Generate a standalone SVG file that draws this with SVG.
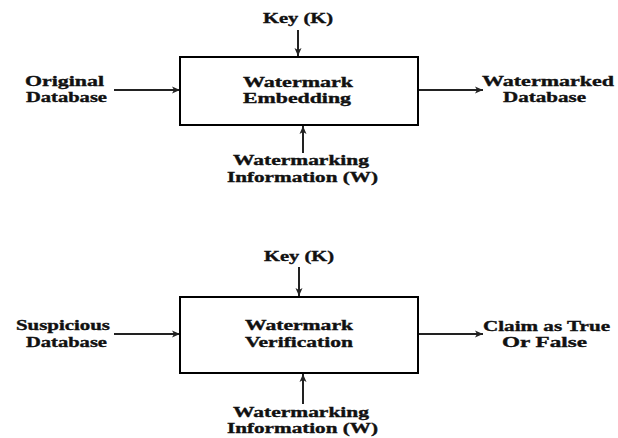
<svg xmlns="http://www.w3.org/2000/svg" width="618" height="438" viewBox="0 0 618 438">
<style>
.box{fill:#fff;stroke:#000;stroke-width:2}
.t{font-family:"Liberation Serif","Times New Roman",serif;font-weight:bold;font-size:14px;fill:#111;stroke:#111;stroke-width:0.35;text-anchor:middle}
.c{stroke:#222;stroke-width:2;fill:none;marker-end:url(#ah)}
</style>
<defs>
<marker id="ah" markerUnits="userSpaceOnUse" markerWidth="10" markerHeight="10" viewBox="0 0 10 10" refX="9" refY="5" orient="auto">
<path d="M1,1.5 L9,5 L1,8.5 L3,5 Z" fill="#222"/>
</marker>
</defs>
<rect width="618" height="438" fill="#fff"/>
<g id="connectors">
<line class="c" x1="298" y1="30" x2="298" y2="56"/>
<line class="c" x1="114" y1="90" x2="180" y2="90"/>
<line class="c" x1="419" y1="90" x2="483" y2="90"/>
<line class="c" x1="303" y1="153" x2="303" y2="126"/>
<line class="c" x1="299" y1="267" x2="299" y2="296"/>
<line class="c" x1="114" y1="334" x2="180" y2="334"/>
<line class="c" x1="419" y1="334" x2="483" y2="334"/>
<line class="c" x1="303" y1="404" x2="303" y2="374"/>
</g>
<g id="embedding">
<rect class="box" x="180" y="57" width="238" height="68"/>
<text class="t" x="298" y="87" textLength="110" lengthAdjust="spacingAndGlyphs">Watermark</text>
<text class="t" x="297" y="103" textLength="108" lengthAdjust="spacingAndGlyphs">Embedding</text>
</g>
<g id="key1"><text class="t" x="298" y="23" textLength="70" lengthAdjust="spacingAndGlyphs">Key (K)</text></g>
<g id="original-db">
<text class="t" x="64.5" y="86" textLength="79" lengthAdjust="spacingAndGlyphs">Original</text>
<text class="t" x="66.5" y="102" textLength="81" lengthAdjust="spacingAndGlyphs">Database</text>
</g>
<g id="watermarked-db">
<text class="t" x="548" y="86" textLength="132" lengthAdjust="spacingAndGlyphs">Watermarked</text>
<text class="t" x="544.5" y="102" textLength="83" lengthAdjust="spacingAndGlyphs">Database</text>
</g>
<g id="wm-info1">
<text class="t" x="301" y="165" textLength="136" lengthAdjust="spacingAndGlyphs">Watermarking</text>
<text class="t" x="302.5" y="182" textLength="151" lengthAdjust="spacingAndGlyphs">Information (W)</text>
</g>
<g id="verification">
<rect class="box" x="180" y="297" width="238" height="76"/>
<text class="t" x="299" y="330" textLength="108" lengthAdjust="spacingAndGlyphs">Watermark</text>
<text class="t" x="299" y="347" textLength="108" lengthAdjust="spacingAndGlyphs">Verification</text>
</g>
<g id="key2"><text class="t" x="299" y="261" textLength="70" lengthAdjust="spacingAndGlyphs">Key (K)</text></g>
<g id="suspicious-db">
<text class="t" x="63" y="330" textLength="94" lengthAdjust="spacingAndGlyphs">Suspicious</text>
<text class="t" x="66.5" y="347" textLength="81" lengthAdjust="spacingAndGlyphs">Database</text>
</g>
<g id="claim">
<text class="t" x="546.5" y="331" textLength="127" lengthAdjust="spacingAndGlyphs">Claim as True</text>
<text class="t" x="544.5" y="347" textLength="85" lengthAdjust="spacingAndGlyphs">Or False</text>
</g>
<g id="wm-info2">
<text class="t" x="301" y="417" textLength="136" lengthAdjust="spacingAndGlyphs">Watermarking</text>
<text class="t" x="302.5" y="433" textLength="151" lengthAdjust="spacingAndGlyphs">Information (W)</text>
</g>
</svg>
